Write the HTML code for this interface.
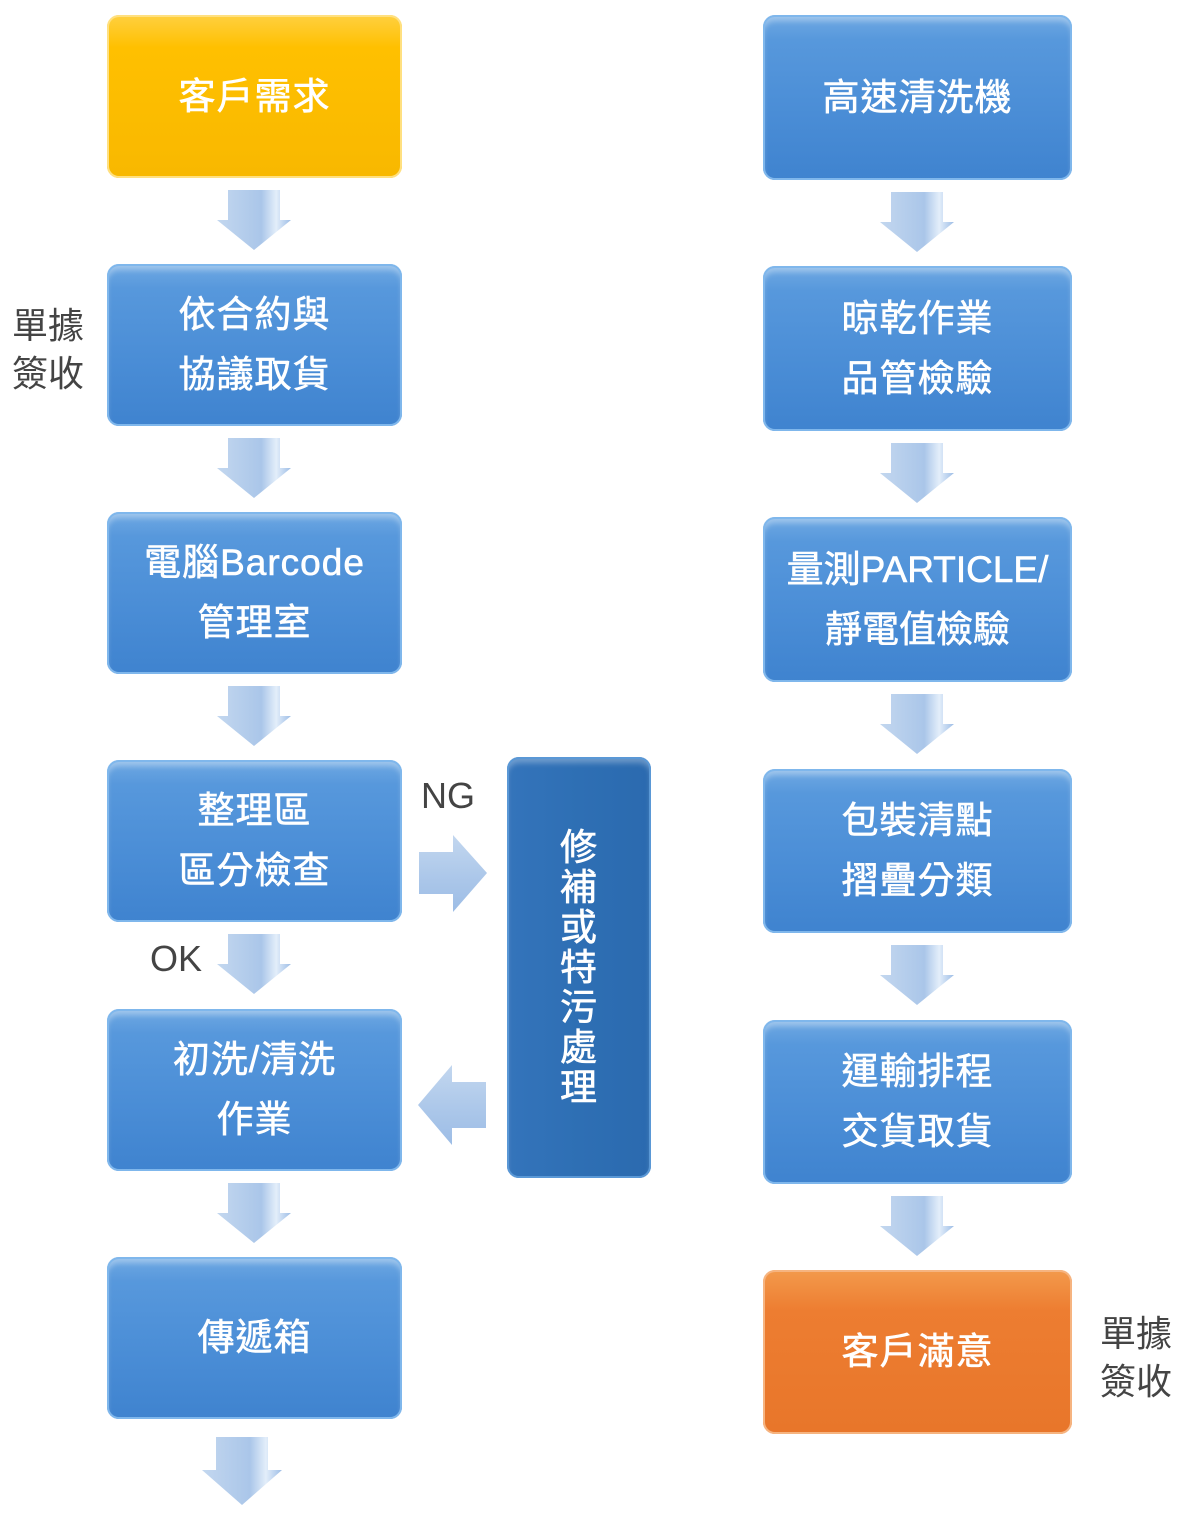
<!DOCTYPE html>
<html><head><meta charset="utf-8"><style>
body{margin:0;width:1200px;height:1531px;background:#fff;position:relative;overflow:hidden;font-family:"Liberation Sans","Noto Sans CJK TC",sans-serif}
.b{position:absolute;border-radius:12px;background:linear-gradient(#6fa9e3 0%,#5798dc 15%,#4a8dd6 60%,#3f83cf 100%);box-shadow:inset 0 0 0 2px #7fb7ec,inset 0 6px 6px rgba(255,255,255,.35);color:#fff;font-size:37px;line-height:60px;text-align:center;display:flex;align-items:center;justify-content:center;letter-spacing:1px;-webkit-text-stroke:0.6px #fff}
.y{background:linear-gradient(#ffd040,#ffc000 20%,#f8b800);box-shadow:inset 0 0 0 2px #ffe080}
.o{background:linear-gradient(#f39a4c,#ed7d31 25%,#e8762a);box-shadow:inset 0 0 0 2px #f6b480}
.d{background:linear-gradient(90deg,#3474bb,#2e6fb4 50%,#2b6aaf);box-shadow:inset 0 0 0 2px #5a98d6,inset 0 6px 6px rgba(255,255,255,.3)}
.t{position:absolute;color:#444;font-size:36px;line-height:48px}
svg{position:absolute;left:0;top:0}
</style></head><body>
<svg width="1200" height="1531">
<defs><linearGradient id="g" x1="0" x2="1"><stop offset="0" stop-color="#c3d7ef"/><stop offset=".6" stop-color="#aac6e9"/><stop offset=".8" stop-color="#e3eefa"/><stop offset="1" stop-color="#9dbde6"/></linearGradient>
<linearGradient id="h" x1="0" y1="0" x2="0" y2="1"><stop offset="0" stop-color="#c3d7ef"/><stop offset=".6" stop-color="#aac6e9"/><stop offset="1" stop-color="#9dbde6"/></linearGradient>
<path id="da" d="M-26 0H26V30H37L0 60L-37 30H-26Z" fill="url(#g)"/></defs>
<use href="#da" x="254" y="190"/><use href="#da" x="254" y="438"/><use href="#da" x="254" y="686"/><use href="#da" x="254" y="934"/><use href="#da" x="254" y="1183"/>
<path d="M216 1437H268V1470H282L242 1505L202 1470H216Z" fill="url(#g)"/>
<use href="#da" x="917" y="192"/><use href="#da" x="917" y="443"/><use href="#da" x="917" y="694"/><use href="#da" x="917" y="945"/><use href="#da" x="917" y="1196"/>
<path d="M419 852H453V835L487 873L453 912V894H419Z" fill="url(#h)"/>
<path d="M486 1082H452V1065L418 1105L452 1145V1128H486Z" fill="url(#h)"/>
</svg>
<div class="b y" style="left:107px;top:15px;width:295px;height:163px">客戶需求</div>
<div class="b" style="left:107px;top:264px;width:295px;height:162px">依合約與<br>協議取貨</div>
<div class="b" style="left:107px;top:512px;width:295px;height:162px">電腦Barcode<br>管理室</div>
<div class="b" style="left:107px;top:760px;width:295px;height:162px">整理區<br>區分檢查</div>
<div class="b" style="left:107px;top:1009px;width:295px;height:162px">初洗/清洗<br>作業</div>
<div class="b" style="left:107px;top:1257px;width:295px;height:162px">傳遞箱</div>
<div class="b d" style="left:507px;top:757px;width:144px;height:421px;line-height:40px">修<br>補<br>或<br>特<br>污<br>處<br>理</div>
<div class="b" style="left:763px;top:15px;width:309px;height:165px">高速清洗機</div>
<div class="b" style="left:763px;top:266px;width:309px;height:165px">晾乾作業<br>品管檢驗</div>
<div class="b" style="left:763px;top:517px;width:309px;height:165px;letter-spacing:0">量測PARTICLE/<br>靜電值檢驗</div>
<div class="b" style="left:763px;top:769px;width:309px;height:164px">包裝清點<br>摺疊分類</div>
<div class="b" style="left:763px;top:1020px;width:309px;height:164px">運輸排程<br>交貨取貨</div>
<div class="b o" style="left:763px;top:1270px;width:309px;height:164px">客戶滿意</div>
<div class="t" style="left:12px;top:302px">單據<br>簽收</div>
<div class="t" style="left:1100px;top:1310px">單據<br>簽收</div>
<div class="t" style="left:421px;top:772px">NG</div>
<div class="t" style="left:150px;top:935px">OK</div>
</body></html>
